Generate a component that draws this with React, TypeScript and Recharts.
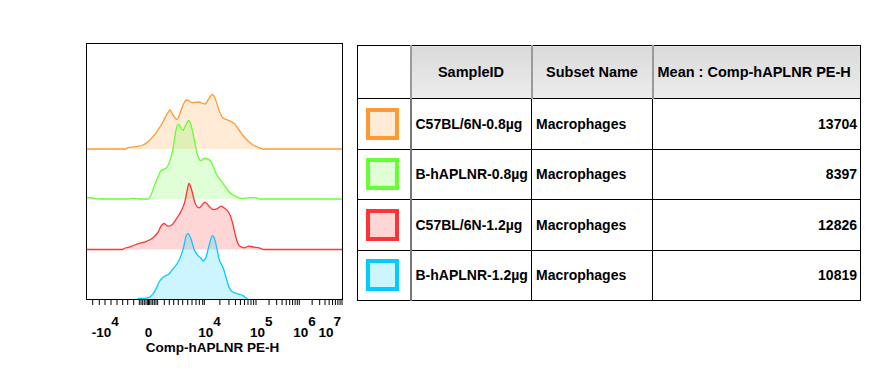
import { ComposedChart, Area, XAxis, YAxis } from 'recharts';

// histogram curves: [channel, height] (channel 0..256 across the axis)
const ORANGE: [number, number][] = [
  [0, 0], [40, 0], [42, 1.3], [50, 2.3], [57, 4], [62, 7.3], [67, 12.3], [72, 19], [77, 27.3], [82, 36.7],
  [84, 39], [87, 34], [91, 29.7], [94, 35.7], [97, 44], [101, 49], [106, 46.3], [112, 47], [119, 45],
  [122, 49], [126.5, 54.7], [129, 50.7], [133, 39], [137, 31], [143, 28.5], [148, 25.7], [153, 19],
  [157, 13.5], [161, 9], [167, 4], [173, 1.3], [177, 0], [256, 0],
];
const GREEN: [number, number][] = [
  [0, 1.5], [7, 1], [12, 0], [42, 0], [47, 0.7], [53, 0], [62, 0], [65, 4], [68, 12.3], [72, 22.3],
  [75, 28.3], [80, 30.7], [83, 35.7], [87, 50.7], [90, 69], [92.5, 74.5], [97, 68.5], [99, 72.3],
  [103, 78.5], [106, 70], [109, 55.7], [112, 42.3], [115, 38.3], [118, 40.5], [122, 40], [126, 35.7],
  [130, 25.7], [137, 15.7], [143, 7.3], [150, 2.3], [157, 0.3], [163, 1.3], [170, 1.3], [174, 0], [256, 0],
];
const RED: [number, number][] = [
  [0, 0], [37, 0], [38, 1], [43, 2.3], [50, 5], [58, 7.3], [67, 11.7], [72, 17.3], [75, 23.3], [78, 26],
  [82, 23.3], [85, 24], [90, 30], [95, 38.3], [99, 48.3], [101, 58.3], [103, 66], [106, 58.3], [109, 46.7],
  [113, 41.7], [117, 45.7], [119, 47.3], [123, 43.3], [127, 40], [131, 40.7], [135, 43.3], [138, 41.7],
  [143, 36.7], [147, 25], [150, 11.7], [153, 4], [158, 1.7], [163, 3.3], [168, 2.3], [173, 1.7], [178, 0], [256, 0],
];
const BLUE: [number, number][] = [
  [0, 0], [50, 0], [53, 1.3], [58, 1.3], [63, 2.3], [67, 5.7], [70, 10.7], [73, 17.3], [78, 23], [83, 25.7],
  [87, 30.7], [92, 37.3], [95, 44], [98, 54], [100, 63.3], [102, 66], [105, 60.7], [108, 50.7], [112, 44],
  [115, 41.3], [117, 38.7], [120, 42.3], [123, 54], [126.5, 64], [128, 62.3], [131, 50.7], [133, 40.7],
  [137, 32.3], [140, 22.3], [143, 12.3], [147, 7.3], [152, 5.7], [157, 4], [163, 0], [256, 0],
];

// x axis (biexponential display, channel units)
const MAJOR_TICKS = [6.7, 62.5, 118.3, 170, 213.3, 256];
const TICK_LABELS: [string, string][] = [['-10', '4'], ['0', ''], ['10', '4'], ['10', '5'], ['10', '6'], ['10', '7']];
const NEAR_ZERO_TICKS = [
  13.3, 19, 25, 31, 36.7, 41.7, 47.7, 53.3, 55, 56.7, 58.3, 60, 61.7, 63.3, 65, 66.7, 68.3, 70,
  71.7, 78.3, 83.3, 87.7, 92.3, 96.7, 101.7, 106, 110, 113.3, 116.7,
];

// table
const SAMPLES = ['C57BL/6N-0.8µg', 'B-hAPLNR-0.8µg', 'C57BL/6N-1.2µg', 'B-hAPLNR-1.2µg'];
const SUBSETS = ['Macrophages', 'Macrophages', 'Macrophages', 'Macrophages'];
const MEANS = [13704, 8397, 12826, 10819];
const HEADERS = ['SampleID', 'Subset Name', 'Mean : Comp-hAPLNR PE-H'];
const AXIS_TITLE = 'Comp-hAPLNR PE-H';

const COLORS = ['#ff9933', '#66ff33', '#ff3333', '#00ccff'];
const SWATCH_FILL = ['#ffebd6', '#e0ffd6', '#ffd6d6', '#ccf5ff'];
// vertical offset of each stacked histogram (blue sits on the frame line)
const OFFSETS = [150, 100, 49.5, -0.6];
const FONT = "'Liberation Sans', Arial, sans-serif";

const SERIES = [ORANGE, GREEN, RED, BLUE];
const KEYS = ['s0', 's1', 's2', 's3'];

const xs = Array.from(new Set(SERIES.flatMap(s => s.map(p => p[0])))).sort((a, b) => a - b);
const rows = xs.map(x => {
  const row: Record<string, number | null> = { x };
  SERIES.forEach((s, i) => {
    const p = s.find(q => q[0] === x);
    row[KEYS[i]] = p ? p[1] : null;
  });
  return row;
});

const logMinors: number[] = [];
for (let d = 2; d < MAJOR_TICKS.length - 1; d++) {
  const a = MAJOR_TICKS[d], b = MAJOR_TICKS[d + 1];
  for (let k = 2; k <= 9; k++) logMinors.push(a + (b - a) * Math.log10(k));
}
const ALL_TICKS = [...MAJOR_TICKS, ...NEAR_ZERO_TICKS, ...logMinors].sort((a, b) => a - b);

// label only; the tick marks come from the axis' own tickLine
function AxisTick(props: any) {
  const { x, y, payload } = props;
  const mi = MAJOR_TICKS.indexOf(payload.value);
  if (mi < 0) return null;
  const [base, exp] = TICK_LABELS[mi];
  let anchor: 'start' | 'middle' | 'end' = 'start';
  let dx = -6;
  if (mi === 0) dx = -1;
  else if (mi === MAJOR_TICKS.length - 1) { anchor = 'end'; dx = -1; }
  else if (!exp) { anchor = 'middle'; dx = 0; }
  return (
    <text x={x + dx} y={y + 32} textAnchor={anchor} fontFamily={FONT} fontWeight="bold" fontSize={13.5} fill="#000">
      {base}
      {exp && <tspan dy={-11}>{exp}</tspan>}
    </text>
  );
}

const cell: React.CSSProperties = { border: '1px solid #000', padding: '0 4px', whiteSpace: 'nowrap', overflow: 'hidden' };
const hdr: React.CSSProperties = {
  ...cell, background: 'linear-gradient(#dadada, #ececec)', borderLeft: '2px solid #9a9a9a', fontWeight: 'bold', fontSize: 14.5,
};

export default function App() {
  return (
    <div style={{ position: 'absolute', left: 0, top: 0, width: 885, height: 389, background: '#fff', fontFamily: FONT }}>
      <div style={{ position: 'absolute', left: 0, top: 0 }}>
        <ComposedChart width={360} height={370} data={rows} margin={{ top: 43, right: 18, bottom: 41, left: 86 }}>
          <XAxis
            dataKey="x" type="number" domain={[0, 256]} ticks={ALL_TICKS} interval={0}
            tick={<AxisTick />} tickLine={{ stroke: '#000', strokeWidth: 1 }} axisLine={false}
            tickSize={6} tickMargin={0} height={30}
          />
          <YAxis hide type="number" domain={[0, 256]} allowDataOverflow />
          {KEYS.map((k, i) => (
            <Area
              key={k}
              type="monotone"
              dataKey={(r: any) => (r[k] == null ? null : r[k] + OFFSETS[i])}
              baseValue={OFFSETS[i]}
              connectNulls
              stroke={COLORS[i]}
              strokeWidth={1.3}
              fill={COLORS[i]}
              fillOpacity={0.2}
              dot={false}
              activeDot={false}
              isAnimationActive={false}
            />
          ))}
        </ComposedChart>
      </div>
      <div style={{ position: 'absolute', left: 86, top: 43, width: 257, height: 257, boxSizing: 'border-box', border: '1px solid #000' }} />
      <div style={{ position: 'absolute', left: 0, top: 340, width: 425, textAlign: 'center', fontWeight: 'bold', fontSize: 13.5, lineHeight: '16px' }}>
        {AXIS_TITLE}
      </div>

      <table style={{ position: 'absolute', left: 357, top: 45, borderCollapse: 'collapse', tableLayout: 'fixed', width: 503, fontSize: 14, fontWeight: 'bold', color: '#000' }}>
        <colgroup>
          <col style={{ width: 53 }} />
          <col style={{ width: 121 }} />
          <col style={{ width: 121 }} />
          <col style={{ width: 208 }} />
        </colgroup>
        <thead>
          <tr style={{ height: 53 }}>
            <th style={{ ...cell, background: '#fff' }} />
            <th style={{ ...hdr, textAlign: 'center' }}>{HEADERS[0]}</th>
            <th style={{ ...hdr, textAlign: 'center' }}>{HEADERS[1]}</th>
            <th style={{ ...hdr, textAlign: 'left' }}>{HEADERS[2]}</th>
          </tr>
        </thead>
        <tbody>
          {SAMPLES.map((s, i) => (
            <tr key={s} style={{ height: 50.5 }}>
              <td style={{ ...cell, borderRight: '2px solid #777', textAlign: 'center', padding: 0 }}>
                <div style={{ width: 33, height: 32, boxSizing: 'border-box', border: `4px solid ${COLORS[i]}`, background: SWATCH_FILL[i], margin: '0 auto', position: 'relative', left: -1 }} />
              </td>
              <td style={cell}>{s}</td>
              <td style={cell}>{SUBSETS[i]}</td>
              <td style={{ ...cell, textAlign: 'right', paddingRight: 3 }}>{MEANS[i]}</td>
            </tr>
          ))}
        </tbody>
      </table>
    </div>
  );
}
